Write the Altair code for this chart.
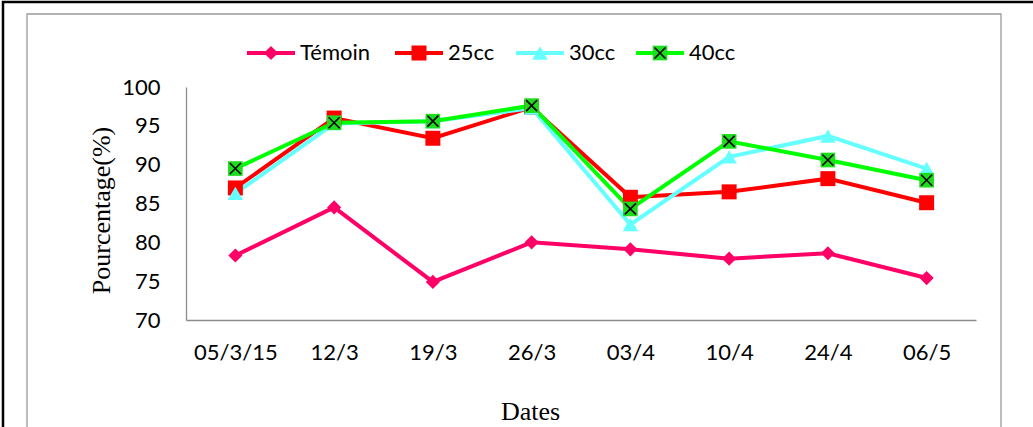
import altair as alt
import pandas as pd

# ---- data ----
dates = ["05/3/15", "12/3", "19/3", "26/3", "03/4", "10/4", "24/4", "06/5"]
series_names = ["Témoin", "25cc", "30cc", "40cc"]
temoin = [78.3, 84.5, 74.9, 80.0, 79.1, 77.9, 78.6, 75.4]
cc25 = [87.0, 96.0, 93.4, 97.4, 85.8, 86.5, 88.2, 85.1]
cc30 = [86.3, 95.3, 95.6, 97.3, 82.3, 91.0, 93.7, 89.5]
cc40 = [89.5, 95.4, 95.6, 97.6, 84.3, 93.0, 90.6, 88.0]
y_ticks = [70, 75, 80, 85, 90, 95, 100]

# ---- styles / layout ----
colors = {"Témoin": "#FF0066", "25cc": "#FF0000", "30cc": "#66FFFF", "40cc": "#00FF00"}
shapes = {"Témoin": "diamond", "25cc": "square", "30cc": "triangle-up", "40cc": "square"}
sizes = {"Témoin": 200, "25cc": 225, "30cc": 240, "40cc": 215}
marker_fill = {"Témoin": "#FF0066", "25cc": "#FF0000", "30cc": "#66FFFF", "40cc": "#1EDC1E"}
legend_x_px = [85, 233, 354, 474]  # marker centres, relative to plot left
W, H = 790, 233
LEFT, TOP = 186, 87
SANS = "Lato"
SERIF = "Liberation Serif"
FS = 22

values = {"Témoin": temoin, "25cc": cc25, "30cc": cc30, "40cc": cc40}
rows = []
for s in series_names:
    for d, v in zip(dates, values[s]):
        rows.append({"date": d, "series": s, "value": v})
df = pd.DataFrame(rows)

leg = pd.DataFrame({
    "series": series_names,
    "lx": legend_x_px,
    "lx1": [x - 24 for x in legend_x_px],
    "lx2": [x + 24 for x in legend_x_px],
})

xenc = alt.X(
    "date:N",
    sort=dates,
    scale=alt.Scale(type="point", padding=0.5),
    axis=alt.Axis(
        title="Dates", labelAngle=0, ticks=False, tickSize=0, grid=False,
        labelFont=SANS, labelFontSize=FS, labelColor="#000000", labelPadding=22,
        titleFont=SERIF, titleFontSize=26, titleFontWeight="normal", titleColor="#000000",
        titleX=344, titleY=99, titleBaseline="alphabetic", titleAlign="center",
        domainColor="#8C8C8C", domainWidth=1.3,
    ),
)
yenc = alt.Y(
    "value:Q",
    scale=alt.Scale(domain=[70, 100], nice=False, zero=False),
    axis=alt.Axis(
        title="Pourcentage(%)", values=y_ticks, ticks=False, tickSize=0, grid=False,
        labelFont=SANS, labelFontSize=FS, labelColor="#000000", labelPadding=26,
        titleFont=SERIF, titleFontSize=26, titleFontWeight="normal", titleColor="#000000",
        titleX=-85, titleY=123, titleAngle=-90, titleAlign="center", titleBaseline="middle",
        domainColor="#8C8C8C", domainWidth=1.3,
    ),
)

layers = []
for s in series_names:
    sub = df[df.series == s]
    base = alt.Chart(sub).encode(x=xenc, y=yenc)
    layers.append(base.mark_line(color=colors[s], strokeWidth=4))
for s in series_names:
    sub = df[df.series == s]
    base = alt.Chart(sub).encode(x=xenc, y=yenc)
    layers.append(base.mark_point(shape=shapes[s], size=sizes[s], filled=True,
                                  fill=marker_fill[s], opacity=1, strokeWidth=0))
    if s == "40cc":
        layers.append(base.mark_point(shape="M-1,-1L1,1M1,-1L-1,1", size=121, filled=False,
                                      stroke="#000000", strokeWidth=1.6, opacity=1))

main = alt.layer(*layers)

# ---- legend ----
lscale = alt.Scale(domain=[0, W], range=[0, W], nice=False, zero=False)
lx = alt.X("lx:Q", scale=lscale, axis=None)
leg_layers = []
for s in series_names:
    sub = leg[leg.series == s]
    b = alt.Chart(sub)
    leg_layers.append(
        b.mark_rule(color=colors[s], strokeWidth=4).encode(
            x=alt.X("lx1:Q", scale=lscale, axis=None), x2="lx2:Q", y=alt.value(-34))
    )
    leg_layers.append(
        b.mark_point(shape=shapes[s], size=sizes[s], filled=True, fill=marker_fill[s],
                     opacity=1, strokeWidth=0).encode(x=lx, y=alt.value(-34))
    )
    if s == "40cc":
        leg_layers.append(
            b.mark_point(shape="M-1,-1L1,1M1,-1L-1,1", size=121, filled=False,
                         stroke="#000000", strokeWidth=1.6, opacity=1).encode(x=lx, y=alt.value(-34))
        )
    leg_layers.append(
        b.mark_text(align="left", baseline="middle", dx=29, font=SANS, fontSize=FS,
                    color="#000000").encode(x=lx, y=alt.value(-34), text="series:N")
    )
legend = alt.layer(*leg_layers).resolve_scale(x="shared")

# ---- frame rectangles ----
one = alt.Data(values=[{"a": 1}])
outer = alt.Chart(one).mark_rect(fill=None, stroke="#000000", strokeWidth=2.5).encode(
    x=alt.value(3 - LEFT), x2=alt.value(1060 - LEFT), y=alt.value(2 - TOP), y2=alt.value(460 - TOP))
inner = alt.Chart(one).mark_rect(fill=None, stroke="#9A9A9A", strokeWidth=1.3).encode(
    x=alt.value(27 - LEFT), x2=alt.value(1001 - LEFT), y=alt.value(14 - TOP), y2=alt.value(460 - TOP))

chart = alt.layer(outer, inner, main, legend).resolve_scale(x="independent").properties(
    width=W, height=H,
    autosize=alt.AutoSizeParams(type="none"),
    padding={"left": LEFT, "top": TOP, "right": 1033 - LEFT - W, "bottom": 427 - TOP - H},
    background="#FFFFFF",
).configure_view(stroke=None)

chart.save("out.html", embed_options={"renderer": "svg", "actions": False})
